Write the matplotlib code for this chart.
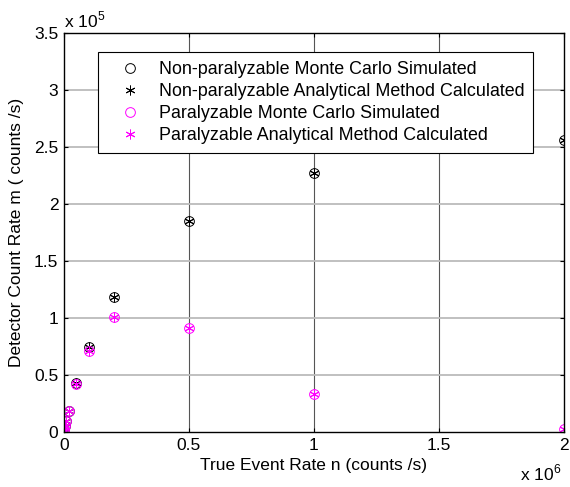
import matplotlib
matplotlib.use('Agg')
import matplotlib.pyplot as plt
from matplotlib.ticker import FuncFormatter

# true event rate n (counts/s)
n_true = [1e3, 2e3, 5e3, 1e4, 2e4, 5e4, 1e5, 2e5, 5e5, 1e6, 2e6]

# detector count rates
nonpar_mc = [997, 1990, 4940, 9670, 18700, 42700, 74600, 118500, 185000, 227000, 256000]
nonpar_an = [997, 1990, 4940, 9670, 18700, 42700, 74600, 118500, 185000, 227000, 256000]
par_mc = [997, 1990, 4920, 9660, 18700, 42200, 71000, 101000, 91000, 33500, 2200]
par_an = [997, 1990, 4920, 9660, 18700, 42200, 71000, 101000, 91000, 33500, 2200]

labels = ['Non-paralyzable Monte Carlo Simulated',
          'Non-paralyzable Analytical Method Calculated',
          'Paralyzable Monte Carlo Simulated',
          'Paralyzable Analytical Method Calculated']

plt.rcParams['font.family'] = ['Liberation Sans', 'DejaVu Sans']
plt.rcParams['mathtext.fontset'] = 'custom'
plt.rcParams['mathtext.rm'] = 'Liberation Sans'

fig = plt.figure(figsize=(5.7, 4.87), dpi=100)
ax = fig.add_axes([0.112, 0.113, 0.877, 0.819])

asterisk = (6, 2, 0)
ax.plot(n_true, nonpar_mc, 'o', mfc='none', mec='black', ms=7, mew=0.7, label=labels[0])
ax.plot(n_true, nonpar_an, linestyle='None', marker=asterisk, color='black', ms=7, mew=0.7, label=labels[1])
ax.plot(n_true, par_mc, 'o', mfc='none', mec='magenta', ms=7, mew=0.7, label=labels[2])
ax.plot(n_true, par_an, linestyle='None', marker=asterisk, color='magenta', ms=7, mew=0.7, label=labels[3])

ax.set_xlim(0, 2e6)
ax.set_ylim(0, 3.5e5)
ax.set_xticks([0, 0.5e6, 1e6, 1.5e6, 2e6])
ax.set_yticks([0, 0.5e5, 1e5, 1.5e5, 2e5, 2.5e5, 3e5, 3.5e5])
ax.xaxis.set_major_formatter(FuncFormatter(lambda v, p: ('%g' % (v / 1e6))))
ax.yaxis.set_major_formatter(FuncFormatter(lambda v, p: ('%g' % (v / 1e5))))
ax.tick_params(direction='in', labelsize=12.5, top=True, right=True, length=3, width=0.8, pad=4)

for v in [0.5e6, 1e6, 1.5e6]:
    ax.axvline(v, color='#555555', lw=0.8, zorder=0)
for v in [0.5e5, 1e5, 1.5e5, 2e5, 2.5e5, 3e5]:
    ax.axhline(v, color='#bbbbbb', lw=1.3, zorder=0)

for s in ax.spines.values():
    s.set_linewidth(1.0)

ax.set_xlabel('True Event Rate n (counts /s)', fontsize=12.5, labelpad=4)
ax.set_ylabel('Detector Count Rate m ( counts /s)', fontsize=12.5, labelpad=7)

ax.text(0.0, 1.008, r'x 10$^{5}$', transform=ax.transAxes, fontsize=12.5, ha='left', va='bottom')
ax.text(0.995, -0.078, r'x 10$^{6}$', transform=ax.transAxes, fontsize=12.5, ha='right', va='top')

leg = ax.legend(loc='upper left', bbox_to_anchor=(0.068, 0.952), fontsize=12.9,
                frameon=True, fancybox=False, edgecolor='black', framealpha=1,
                handlelength=2.6, handletextpad=0.3, labelspacing=0.28, borderpad=0.5,
                borderaxespad=0)
leg.get_frame().set_linewidth(0.8)

fig.savefig('out.png', dpi=100)
